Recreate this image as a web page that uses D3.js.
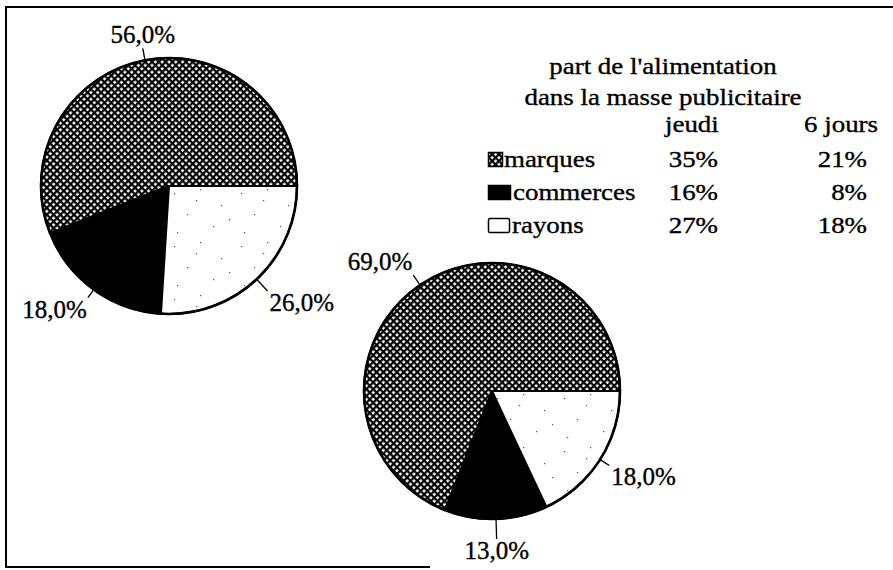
<!DOCTYPE html>
<html>
<head>
<meta charset="utf-8">
<script src="https://cdn.jsdelivr.net/npm/d3@7"></script>
<style>
  body { margin: 0; background: #fff; }
  svg { display: block; }
  text { font-family: "Liberation Serif", "Times New Roman", serif; fill: #000; stroke: #000; stroke-width: 0.35; }
</style>
</head>
<body>
<div id="app"></div>
<script>
// data
const categories = ['marques', 'commerces', 'rayons'];
const jeudiShares = [56, 18, 26];
const sixJoursShares = [69, 13, 18];
const legendTitle = ["part de l'alimentation", 'dans la masse publicitaire'];
const columnHeads = ['jeudi', '6 jours'];
const jeudiMasse = ['35%', '16%', '27%'];
const sixJoursMasse = ['21%', '8%', '18%'];

const width = 893, height = 570;
const radius = 128;
const labelFont = 25;
const legendFont = 23;
const legendStretch = 1.17;

const svg = d3.select('#app').append('svg')
  .attr('width', width)
  .attr('height', height);

const defs = svg.append('defs');

// cross hatch for "marques"
const hatch = defs.append('pattern')
  .attr('id', 'hatch')
  .attr('patternUnits', 'userSpaceOnUse')
  .attr('width', 4.8)
  .attr('height', 4.8)
  .attr('patternTransform', 'rotate(45)');
hatch.append('rect').attr('width', 4.8).attr('height', 4.8).attr('fill', '#fff');
hatch.append('rect').attr('width', 4.8).attr('height', 2.2).attr('fill', '#000');
hatch.append('rect').attr('width', 2.2).attr('height', 4.8).attr('fill', '#000');

// sparse specks for "rayons"
const specks = defs.append('pattern')
  .attr('id', 'specks')
  .attr('patternUnits', 'userSpaceOnUse')
  .attr('width', 67)
  .attr('height', 53);
specks.append('rect').attr('width', 67).attr('height', 53).attr('fill', '#fff');
[[5, 7], [31, 3], [52, 19], [18, 28], [44, 40], [8, 46], [60, 33], [27, 14]].forEach(p => {
  specks.append('rect')
    .attr('x', p[0]).attr('y', p[1])
    .attr('width', 1.2).attr('height', 1.2)
    .attr('fill', '#555')
    .attr('stroke', 'none');
});

const fills = d3.scaleOrdinal()
  .domain(categories)
  .range(['url(#hatch)', '#000', 'url(#specks)']);

// frame (open on the right, short at the bottom as in the scan)
const frame = svg.append('g').attr('stroke', '#000').attr('stroke-width', 2).attr('fill', 'none');
frame.append('path').attr('d', 'M6,6 V568');
frame.append('path').attr('d', 'M6,7 H893');
frame.append('path').attr('d', 'M6,567 H430');

// pies start at 3 o'clock and run counter-clockwise
const pie = d3.pie()
  .sort(null)
  .value(d => d.v)
  .startAngle(Math.PI / 2)
  .endAngle(Math.PI / 2 - 2 * Math.PI);

const arc = d3.arc().innerRadius(0).outerRadius(radius);

function drawPie(values, cx, cy, leaders) {
  const g = svg.append('g').attr('transform', `translate(${cx},${cy})`);
  const arcs = pie(values.map((v, i) => ({ cat: categories[i], v })));

  g.selectAll('path.slice')
    .data(arcs)
    .enter()
    .append('path')
    .attr('class', 'slice')
    .attr('d', arc)
    .attr('fill', d => fills(d.data.cat))
    .attr('stroke', '#000')
    .attr('stroke-width', 2)
    .attr('stroke-linejoin', 'round');

  g.append('circle')
    .attr('r', radius)
    .attr('fill', 'none')
    .attr('stroke', '#000')
    .attr('stroke-width', 2.6);

  arcs.forEach((d, i) => {
    const a = (d.startAngle + d.endAngle) / 2;
    const dx = Math.sin(a), dy = -Math.cos(a);
    const len = leaders[i];
    const x0 = dx * radius, y0 = dy * radius;
    const x1 = dx * (radius + len), y1 = dy * (radius + len);
    g.append('line')
      .attr('x1', x0).attr('y1', y0)
      .attr('x2', x1).attr('y2', y1)
      .attr('stroke', '#000')
      .attr('stroke-width', 1.3);
    const anchor = dx > 0.3 ? 'start' : dx < -0.3 ? 'end' : 'middle';
    const tx = x1 + (anchor === 'start' ? 2 : anchor === 'end' ? -1 : 0);
    const ty = dy > 0 ? y1 + 20 : y1 - 5;
    g.append('text')
      .attr('x', tx)
      .attr('y', ty)
      .attr('text-anchor', anchor)
      .attr('font-size', labelFont)
      .text(d3.format('.1f')(d.data.v).replace('.', ',') + '%');
  });
}

drawPie(jeudiShares, 169, 186, [12, 10, 16]);
drawPie(sixJoursShares, 492, 391, [12, 20, 11]);

// legend table
const legend = svg.append('g');

function wideText(x, y, str, anchor) {
  return legend.append('text')
    .attr('transform', `translate(${x},${y}) scale(${legendStretch},1)`)
    .attr('text-anchor', anchor || 'start')
    .attr('font-size', legendFont)
    .text(str);
}

legendTitle.forEach((t, i) => wideText(663, 74 + i * 31, t, 'middle'));
wideText(665, 132, columnHeads[0], 'start');
wideText(878, 132, columnHeads[1], 'end');

const rowY = d3.scalePoint().domain(categories).range([167, 233]);
const swatchW = [15, 23, 22];
const textX = [504, 513, 512];

categories.forEach((c, i) => {
  const y = rowY(c);
  legend.append('rect')
    .attr('x', 488.5)
    .attr('y', y - 14.5)
    .attr('width', swatchW[i] - 1)
    .attr('height', 14)
    .attr('rx', i === 2 ? 1.5 : 0)
    .attr('fill', c === 'rayons' ? '#fff' : fills(c))
    .attr('stroke', '#000')
    .attr('stroke-width', 1.5);
  wideText(textX[i], y, c, 'start');
  wideText(718, y, jeudiMasse[i], 'end');
  wideText(867, y, sixJoursMasse[i], 'end');
});
</script>
</body>
</html>
